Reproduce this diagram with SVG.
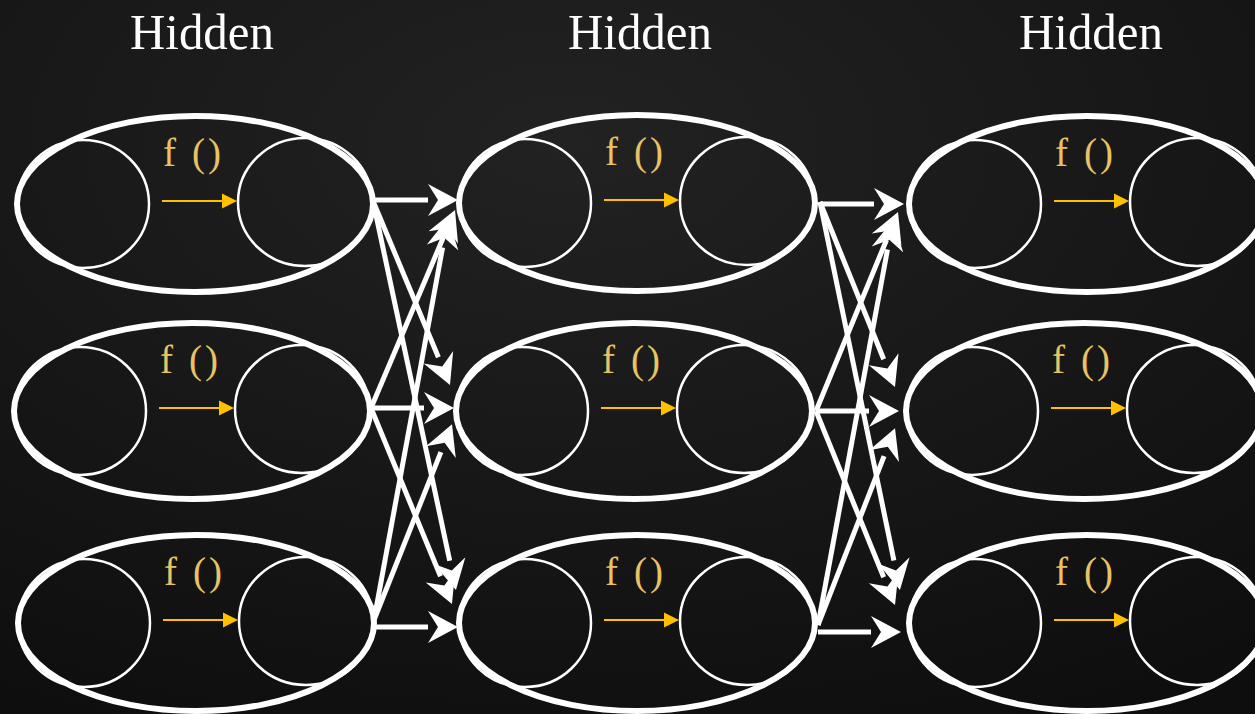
<svg xmlns="http://www.w3.org/2000/svg" width="1255" height="714" viewBox="0 0 1255 714">
<defs>
<radialGradient id="bg" cx="0.45" cy="0.2" r="0.9">
<stop offset="0" stop-color="#222222"/>
<stop offset="0.5" stop-color="#181818"/>
<stop offset="1" stop-color="#0e0e0e"/>
</radialGradient>
<marker id="head" viewBox="0 -17 32 34" refX="0" refY="0" markerWidth="32" markerHeight="34" markerUnits="userSpaceOnUse" orient="auto">
<path d="M30,0 L0,-16 L10,0 L0,16 Z" fill="#ffffff"/>
</marker>
<marker id="ahead" viewBox="0 -8 16 16" refX="0" refY="0" markerWidth="16" markerHeight="16" markerUnits="userSpaceOnUse" orient="auto">
<path d="M15,0 L0,-7.5 L0,7.5 Z" fill="#ffc000"/>
</marker>
<g id="unit">
<ellipse cx="0" cy="0" rx="178" ry="88" class="outer"/>
<ellipse cx="-112" cy="0" rx="66" ry="64" class="inner"/>
<ellipse cx="110" cy="-2" rx="67" ry="64" class="inner"/>
<line x1="-33" y1="-3" x2="27" y2="-3" class="fn"/>
<text x="-32" y="-38" class="f">f<tspan dx="16">(</tspan><tspan dx="3">)</tspan></text>
</g>
</defs>
<style>
.outer{fill:none;stroke:#ffffff;stroke-width:6}
.inner{fill:none;stroke:#ffffff;stroke-width:2.5}
.fn{stroke:#ffc000;stroke-width:2;marker-end:url(#ahead)}
.f{font-family:"Liberation Serif","DejaVu Serif",serif;font-size:39px;fill:#e9c263}
.title{font-family:"Liberation Serif","DejaVu Serif",serif;font-size:50px;fill:#ffffff}
.conn line{stroke:#ffffff;stroke-width:5;marker-end:url(#head)}
</style>
<rect x="0" y="0" width="1255" height="714" fill="url(#bg)"/>
<g id="titles">
<text class="title" x="130" y="49" textLength="144" lengthAdjust="spacingAndGlyphs">Hidden</text>
<text class="title" x="568" y="49" textLength="144" lengthAdjust="spacingAndGlyphs">Hidden</text>
<text class="title" x="1019" y="49" textLength="144" lengthAdjust="spacingAndGlyphs">Hidden</text>
</g>
<g id="node-1-1"><use href="#unit" transform="translate(195,204)"/></g>
<g id="node-1-2"><use href="#unit" transform="translate(192,411)"/></g>
<g id="node-1-3"><use href="#unit" transform="translate(196,623)"/></g>
<g id="node-2-1"><use href="#unit" transform="translate(637,203)"/></g>
<g id="node-2-2"><use href="#unit" transform="translate(634,411)"/></g>
<g id="node-2-3"><use href="#unit" transform="translate(637,623)"/></g>
<g id="node-3-1"><use href="#unit" transform="translate(1087,204)"/></g>
<g id="node-3-2"><use href="#unit" transform="translate(1084,411)"/></g>
<g id="node-3-3"><use href="#unit" transform="translate(1087,623)"/></g>
<g id="connectors" class="conn">
<line x1="373" y1="200" x2="428" y2="200"/>
<line x1="371" y1="408" x2="443.3" y2="237.6"/>
<line x1="374" y1="620" x2="442.6" y2="247.5"/>
<line x1="373" y1="201" x2="438.4" y2="357.3"/>
<line x1="371" y1="408" x2="424" y2="408"/>
<line x1="374" y1="620" x2="440.9" y2="452.1"/>
<line x1="373" y1="201" x2="449.7" y2="560.7"/>
<line x1="371" y1="408" x2="440.5" y2="576.3"/>
<line x1="374" y1="627" x2="428" y2="627"/>
<line x1="820" y1="204" x2="874" y2="204"/>
<line x1="816" y1="411" x2="886.6" y2="239.7"/>
<line x1="818" y1="625" x2="887.5" y2="249.5"/>
<line x1="820" y1="202" x2="883.7" y2="359.2"/>
<line x1="816" y1="411" x2="869" y2="411"/>
<line x1="818" y1="625" x2="884.1" y2="456.1"/>
<line x1="820" y1="202" x2="893.9" y2="560.6"/>
<line x1="816" y1="411" x2="883.7" y2="577.2"/>
<line x1="818" y1="632" x2="871" y2="632"/>
</g>
</svg>
